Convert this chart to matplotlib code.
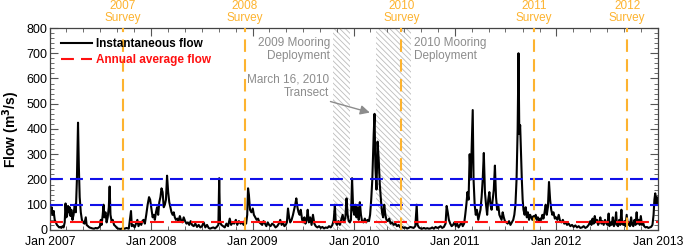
import matplotlib
matplotlib.use('Agg')
import matplotlib.pyplot as plt
import matplotlib.dates as mdates
import matplotlib.transforms as mtransforms
import pandas as pd

plt.rcParams['font.family'] = ['Liberation Sans', 'DejaVu Sans']
plt.rcParams['hatch.linewidth'] = 0.6

# ---------------- data ----------------
flow_dates = [
    # 2007
    '2007-01-01', '2007-01-04', '2007-01-07', '2007-01-10', '2007-01-14', '2007-01-18', '2007-01-22', '2007-01-26', '2007-01-30',
    '2007-02-03', '2007-02-07', '2007-02-11', '2007-02-15', '2007-02-19', '2007-02-23', '2007-02-26', '2007-03-01',
    '2007-03-04', '2007-03-07', '2007-03-10', '2007-03-13', '2007-03-16', '2007-03-19', '2007-03-23', '2007-03-27', '2007-03-31',
    '2007-04-04', '2007-04-08', '2007-04-12', '2007-04-15', '2007-04-18', '2007-04-22', '2007-04-26', '2007-04-30',
    '2007-05-05', '2007-05-10', '2007-05-13', '2007-05-18', '2007-05-23', '2007-05-28',
    '2007-06-03', '2007-06-09', '2007-06-15', '2007-06-20', '2007-06-26', '2007-06-30',
    '2007-07-03', '2007-07-06', '2007-07-10', '2007-07-13', '2007-07-16', '2007-07-20', '2007-07-24', '2007-07-28',
    '2007-08-01', '2007-08-04', '2007-08-07', '2007-08-11', '2007-08-15', '2007-08-20', '2007-08-25', '2007-08-30',
    '2007-09-05', '2007-09-12', '2007-09-20', '2007-09-27',
    '2007-10-04', '2007-10-12', '2007-10-20', '2007-10-23', '2007-10-28',
    '2007-11-02', '2007-11-07', '2007-11-12', '2007-11-16', '2007-11-21', '2007-11-26', '2007-11-30',
    '2007-12-04', '2007-12-09', '2007-12-14', '2007-12-19', '2007-12-24', '2007-12-28',
    # 2008
    '2008-01-02', '2008-01-06', '2008-01-10', '2008-01-14', '2008-01-18', '2008-01-22', '2008-01-26', '2008-01-30',
    '2008-02-03', '2008-02-07', '2008-02-11', '2008-02-15', '2008-02-19', '2008-02-23', '2008-02-27',
    '2008-03-02', '2008-03-06', '2008-03-10', '2008-03-14', '2008-03-18', '2008-03-22', '2008-03-26', '2008-03-30',
    '2008-04-04', '2008-04-08', '2008-04-13', '2008-04-17', '2008-04-22', '2008-04-27',
    '2008-05-02', '2008-05-07', '2008-05-12', '2008-05-17', '2008-05-22', '2008-05-27',
    '2008-06-02', '2008-06-08', '2008-06-14', '2008-06-20', '2008-06-26',
    '2008-07-02', '2008-07-08', '2008-07-14', '2008-07-20', '2008-07-26', '2008-07-31',
    '2008-08-06', '2008-08-12', '2008-08-18', '2008-08-24', '2008-08-30',
    '2008-09-02', '2008-09-05', '2008-09-10', '2008-09-16', '2008-09-22', '2008-09-28',
    '2008-10-04', '2008-10-10', '2008-10-15', '2008-10-20', '2008-10-26',
    '2008-11-01', '2008-11-06', '2008-11-12', '2008-11-18', '2008-11-24', '2008-11-29',
    '2008-12-04', '2008-12-08', '2008-12-12', '2008-12-15', '2008-12-18', '2008-12-22', '2008-12-27',
    # 2009
    '2009-01-01', '2009-01-05', '2009-01-10', '2009-01-15', '2009-01-20', '2009-01-25', '2009-01-30',
    '2009-02-04', '2009-02-09', '2009-02-14', '2009-02-19', '2009-02-24',
    '2009-03-01', '2009-03-06', '2009-03-12', '2009-03-18', '2009-03-24', '2009-03-30',
    '2009-04-05', '2009-04-10', '2009-04-15', '2009-04-20', '2009-04-25', '2009-04-30',
    '2009-05-04', '2009-05-08', '2009-05-12', '2009-05-16', '2009-05-21', '2009-05-26', '2009-05-30',
    '2009-06-03', '2009-06-07', '2009-06-11', '2009-06-15', '2009-06-19', '2009-06-23', '2009-06-28',
    '2009-07-02', '2009-07-06', '2009-07-10', '2009-07-14', '2009-07-18', '2009-07-22', '2009-07-27',
    '2009-08-01', '2009-08-06', '2009-08-11', '2009-08-16', '2009-08-22', '2009-08-28',
    '2009-09-03', '2009-09-09', '2009-09-15', '2009-09-21', '2009-09-27',
    '2009-10-03', '2009-10-09', '2009-10-15', '2009-10-20', '2009-10-24', '2009-10-27',
    '2009-11-01', '2009-11-06', '2009-11-11', '2009-11-16', '2009-11-21', '2009-11-26',
    '2009-12-01', '2009-12-05', '2009-12-09', '2009-12-13', '2009-12-17', '2009-12-21', '2009-12-25', '2009-12-29',
    # 2010
    '2010-01-02', '2010-01-06', '2010-01-10', '2010-01-14', '2010-01-18', '2010-01-22', '2010-01-26', '2010-01-30',
    '2010-02-04', '2010-02-09', '2010-02-14', '2010-02-19', '2010-02-24', '2010-02-28',
    '2010-03-04', '2010-03-08', '2010-03-13', '2010-03-16', '2010-03-19', '2010-03-23', '2010-03-27', '2010-03-31',
    '2010-04-04', '2010-04-08', '2010-04-12', '2010-04-16', '2010-04-20', '2010-04-24', '2010-04-28',
    '2010-05-03', '2010-05-08', '2010-05-13', '2010-05-18', '2010-05-24', '2010-05-30',
    '2010-06-05', '2010-06-11', '2010-06-17', '2010-06-23', '2010-06-29',
    '2010-07-05', '2010-07-11', '2010-07-17', '2010-07-23', '2010-07-29',
    '2010-08-04', '2010-08-10', '2010-08-15', '2010-08-18', '2010-08-23', '2010-08-29',
    '2010-09-04', '2010-09-10', '2010-09-16', '2010-09-22', '2010-09-28',
    '2010-10-04', '2010-10-10', '2010-10-16', '2010-10-22', '2010-10-28',
    '2010-11-03', '2010-11-09', '2010-11-15', '2010-11-21', '2010-11-27',
    '2010-12-01', '2010-12-05', '2010-12-09', '2010-12-14', '2010-12-19', '2010-12-24', '2010-12-29',
    # 2011
    '2011-01-03', '2011-01-08', '2011-01-13', '2011-01-18', '2011-01-23', '2011-01-28',
    '2011-02-02', '2011-02-06', '2011-02-10', '2011-02-14', '2011-02-18', '2011-02-22', '2011-02-26',
    '2011-03-02', '2011-03-05', '2011-03-08', '2011-03-12', '2011-03-16', '2011-03-20', '2011-03-25', '2011-03-29',
    '2011-04-02', '2011-04-06', '2011-04-10', '2011-04-14', '2011-04-18', '2011-04-22', '2011-04-26', '2011-04-30',
    '2011-05-04', '2011-05-08', '2011-05-12', '2011-05-16', '2011-05-20', '2011-05-24', '2011-05-28',
    '2011-06-01', '2011-06-05', '2011-06-09', '2011-06-13', '2011-06-17', '2011-06-21', '2011-06-25', '2011-06-29',
    '2011-07-04', '2011-07-09', '2011-07-14', '2011-07-19', '2011-07-24', '2011-07-29',
    '2011-08-02', '2011-08-06', '2011-08-10', '2011-08-14', '2011-08-17', '2011-08-20', '2011-08-23', '2011-08-26', '2011-08-29',
    '2011-09-01', '2011-09-04', '2011-09-08', '2011-09-12', '2011-09-16', '2011-09-20', '2011-09-24', '2011-09-28',
    '2011-10-02', '2011-10-06', '2011-10-10', '2011-10-14', '2011-10-18', '2011-10-22', '2011-10-26', '2011-10-30',
    '2011-11-03', '2011-11-07', '2011-11-11', '2011-11-15', '2011-11-19', '2011-11-23', '2011-11-27',
    '2011-12-01', '2011-12-05', '2011-12-09', '2011-12-13', '2011-12-17', '2011-12-21', '2011-12-26', '2011-12-30',
    # 2012
    '2012-01-04', '2012-01-09', '2012-01-14', '2012-01-19', '2012-01-24', '2012-01-29',
    '2012-02-03', '2012-02-08', '2012-02-14', '2012-02-20', '2012-02-26',
    '2012-03-03', '2012-03-09', '2012-03-15', '2012-03-21', '2012-03-27',
    '2012-04-02', '2012-04-08', '2012-04-14', '2012-04-20', '2012-04-26',
    '2012-05-02', '2012-05-06', '2012-05-10', '2012-05-14', '2012-05-18', '2012-05-22', '2012-05-26', '2012-05-30',
    '2012-06-03', '2012-06-07', '2012-06-11', '2012-06-15', '2012-06-19', '2012-06-24', '2012-06-29',
    '2012-07-03', '2012-07-07', '2012-07-10', '2012-07-14', '2012-07-18', '2012-07-22', '2012-07-26', '2012-07-30',
    '2012-08-03', '2012-08-06', '2012-08-10', '2012-08-14', '2012-08-18', '2012-08-22', '2012-08-25', '2012-08-29',
    '2012-09-02', '2012-09-06', '2012-09-10', '2012-09-14', '2012-09-18', '2012-09-22', '2012-09-26', '2012-09-30',
    '2012-10-04', '2012-10-08', '2012-10-12', '2012-10-16', '2012-10-19', '2012-10-23', '2012-10-27', '2012-10-31',
    '2012-11-04', '2012-11-08', '2012-11-12', '2012-11-17', '2012-11-22', '2012-11-27',
    '2012-12-02', '2012-12-07', '2012-12-12', '2012-12-16', '2012-12-19', '2012-12-22', '2012-12-25', '2012-12-28', '2012-12-31',
]
flow_values = [
    # 2007
    85, 70, 90, 60, 75, 40, 30, 20, 15,
    10, 12, 8, 15, 10, 30, 105, 50,
    60, 95, 70, 90, 55, 80, 40, 60, 100,
    70, 200, 425, 250, 130, 70, 40, 30,
    25, 50, 20, 15, 10, 8,
    6, 5, 8, 6, 10, 15,
    40, 20, 60, 100, 50, 70, 30, 50,
    90, 172, 60, 35, 40, 20, 15, 8,
    5, 4, 6, 5,
    8, 5, 75, 15, 20,
    10, 25, 40, 15, 30, 20, 35,
    40, 25, 60, 100, 130, 120,
    # 2008
    80, 50, 60, 40, 70, 90, 60, 110,
    130, 165, 150, 90, 100, 120, 215,
    150, 110, 90, 70, 60, 70, 50, 40,
    45, 35, 55, 40, 30, 50,
    35, 25, 30, 20, 35, 20,
    15, 25, 12, 20, 10,
    15, 30, 10, 20, 8, 5,
    8, 10, 6, 12, 20,
    205, 30, 20, 15, 10, 25,
    15, 45, 20, 30, 25,
    40, 20, 35, 25, 30, 20,
    40, 25, 60, 165, 140, 80, 70,
    # 2009
    85, 60, 50, 40, 45, 30, 25,
    20, 35, 25, 15, 30,
    20, 15, 25, 20, 10, 15,
    25, 40, 20, 30, 15, 20,
    30, 85, 50, 30, 40, 60, 80,
    100, 125, 90, 70, 60, 80, 40,
    30, 50, 25, 40, 80, 30, 50,
    20, 60, 25, 15, 10, 15,
    8, 12, 6, 10, 8,
    15, 10, 20, 40, 100, 30,
    20, 35, 20, 40, 60, 30,
    50, 125, 60, 35, 30, 40, 205, 80,
    # 2010
    60, 100, 50, 90, 40, 110, 60, 35,
    30, 45, 30, 40, 35, 60,
    120, 200, 380, 460, 250, 160, 350, 280,
    180, 120, 70, 50, 100, 60, 40,
    35, 45, 25, 30, 20, 25,
    15, 20, 10, 12, 8,
    10, 6, 8, 12, 10,
    8, 15, 100, 20, 10, 6,
    5, 8, 5, 7, 5,
    6, 10, 5, 12, 8,
    10, 15, 8, 12, 25,
    95, 70, 40, 25, 15, 20, 30,
    # 2011
    15, 25, 10, 20, 30, 15,
    25, 60, 100, 150, 120, 300, 200,
    350, 475, 200, 100, 60, 80, 40, 60,
    80, 130, 200, 305, 150, 100, 60, 120,
    150, 100, 80, 120, 160, 255, 130,
    80, 100, 60, 50, 40, 70, 50, 35,
    30, 25, 35, 20, 30, 40,
    60, 100, 200, 400, 700, 380, 415, 300, 200,
    120, 80, 60, 90, 50, 70, 40, 60,
    50, 40, 55, 45, 60, 40, 50, 35,
    45, 40, 60, 45, 70, 100, 60,
    90, 190, 120, 80, 60, 70, 45, 50,
    # 2012
    40, 60, 35, 30, 40, 25,
    30, 20, 25, 15, 20,
    12, 18, 10, 15, 8,
    10, 15, 8, 12, 20,
    35, 20, 45, 25, 55, 30, 40, 20,
    30, 50, 25, 35, 20, 40, 25,
    20, 65, 15, 30, 20, 50, 15, 25,
    70, 20, 15, 40, 20, 80, 25, 20,
    35, 15, 60, 20, 30, 15, 50, 20,
    15, 40, 20, 70, 25, 40, 20, 55,
    20, 30, 15, 10, 12, 8,
    10, 12, 20, 60, 120, 145, 100, 130, 100,
]

avg_years = ['2007', '2008', '2009', '2010', '2011', '2012']
annual_avg = [33, 33, 33, 33, 33, 33]
thresholds = [100, 200]

survey_dates = ['2007-09-21', '2008-12-03', '2010-06-21', '2011-10-11', '2012-09-12']
survey_labels = ['2007\nSurvey', '2008\nSurvey', '2010\nSurvey', '2011\nSurvey', '2012\nSurvey']

mooring_starts = ['2009-10-16', '2010-03-20']
mooring_ends = ['2009-12-17', '2010-07-24']

year_ticks = ['2007-01-01', '2008-01-01', '2009-01-01', '2010-01-01', '2011-01-01', '2012-01-01', '2013-01-01']
year_labels = ['Jan 2007', 'Jan 2008', 'Jan 2009', 'Jan 2010', 'Jan 2011', 'Jan 2012', 'Jan 2013']

# ---------------- plot ----------------
fig = plt.figure(figsize=(6.85, 2.47), dpi=100)
ax = fig.add_axes([0.073, 0.069, 0.8876, 0.8176])

t = pd.to_datetime(flow_dates)
orange = '#FDB32F'
gray = '#8C8C8C'

# hatched mooring periods
for s, e in zip(mooring_starts, mooring_ends):
    ax.axvspan(pd.Timestamp(s), pd.Timestamp(e), facecolor='none', edgecolor='#BBBBBB',
               hatch='\\\\\\\\\\\\', linewidth=0, zorder=1)

ax.plot(t, flow_values, color='black', lw=1.5, zorder=2, label='Instantaneous flow')

for th in thresholds:
    ax.axhline(th, color='#1010E8', lw=1.5, dashes=(6.2, 3.4), zorder=3)

for i, yr in enumerate(avg_years):
    s = pd.Timestamp(yr + '-01-01')
    e = pd.Timestamp(str(int(yr) + 1) + '-01-01')
    ax.plot([s, e], [annual_avg[i], annual_avg[i]], color='#FF1010', lw=1.5,
            dashes=(6.2, 3.4), zorder=3, label='Annual average flow' if i == 0 else None)

trans = mtransforms.blended_transform_factory(ax.transData, ax.transAxes)
for d, lab in zip(survey_dates, survey_labels):
    ax.axvline(pd.Timestamp(d), color=orange, lw=1.5, dashes=(6, 3.5), zorder=4)
    ax.text(pd.Timestamp(d), 1.02, lab, transform=trans, ha='center', va='bottom',
            color=orange, fontsize=8.5, linespacing=1.05)

ax.text(pd.Timestamp('2009-10-06'), 715, '2009 Mooring\nDeployment', ha='right', va='center',
        color=gray, fontsize=8.5, linespacing=1.15)
ax.text(pd.Timestamp('2010-08-04'), 715, '2010 Mooring\nDeployment', ha='left', va='center',
        color=gray, fontsize=8.5, linespacing=1.15)
ax.annotate('March 16, 2010\nTransect', xy=(pd.Timestamp('2010-02-27'), 465),
            xytext=(pd.Timestamp('2009-10-02'), 570), ha='right', va='center',
            color=gray, fontsize=8.5, linespacing=1.15,
            arrowprops=dict(arrowstyle='-|>', color=gray, lw=1, mutation_scale=14,
                            shrinkA=0, shrinkB=0, relpos=(0.9, 0.0)))

ax.set_xlim(pd.Timestamp('2007-01-01'), pd.Timestamp('2013-01-01'))
ax.set_ylim(0, 800)
ax.set_xticks(pd.to_datetime(year_ticks))
ax.set_xticklabels(year_labels)
ax.xaxis.set_minor_locator(mdates.MonthLocator(bymonth=[3, 5, 7, 9, 11]))
ax.set_yticks(range(0, 801, 100))
ax.yaxis.set_minor_locator(matplotlib.ticker.MultipleLocator(20))
ax.tick_params(which='both', direction='in', top=True, right=True, color='#555555',
               labelsize=9, pad=2)
ax.tick_params(axis='x', which='major', pad=4.5, labelsize=8.8)
ax.tick_params(which='major', length=6)
ax.tick_params(which='minor', length=3)
for sp in ax.spines.values():
    sp.set_color('#444444')
    sp.set_linewidth(0.9)

ax.set_ylabel('Flow (m$^\\mathbf{3}$/s)', fontsize=10, fontweight='bold', labelpad=3)

leg = ax.legend(loc='upper left', frameon=False, prop={'weight': 'bold', 'size': 8.5},
                handlelength=2.6, handletextpad=0.3, labelspacing=0.35,
                borderaxespad=0.3, bbox_to_anchor=(0.005, 0.99))
for txt, c in zip(leg.get_texts(), ['black', '#FF1010']):
    txt.set_color(c)

plt.savefig('out.png', dpi=100)
plt.close()
